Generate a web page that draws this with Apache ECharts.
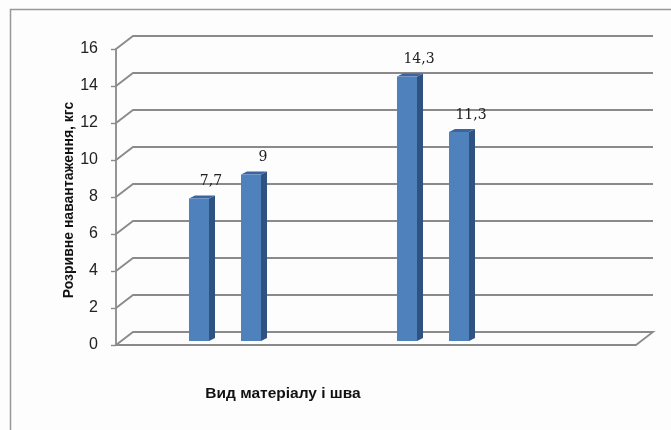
<!DOCTYPE html>
<html>
<head>
<meta charset="utf-8">
<script src="https://cdn.jsdelivr.net/npm/echarts@6/dist/echarts.min.js"></script>
<style>
html,body{margin:0;padding:0;background:#fdfdfd;}
#c{width:671px;height:430px;}
</style>
</head>
<body>
<div id="c"></div>
<script>
// Category slots along the x axis (the chart has no category labels)
var categories = ['', '', '', '', '', '', '', '', '', ''];
// Breaking load values, kgf (empty slots are null)
var values = [null, 7.7, 9, null, null, 14.3, 11.3, null, null, null];
// Y axis ticks
var yTicks = [0, 2, 4, 6, 8, 10, 12, 14, 16];

var yAxisTitle = 'Розривне навантаження, кгс';
var xAxisTitle = 'Вид матеріалу і шва';

var DX = 17, DY = -13;          // depth of back wall
var BDX = 6, BDY = -3;          // bar depth
var GRID = '#8a8a8a';

var chart = echarts.init(document.getElementById('c'), null, {renderer: 'canvas'});

var barData = [];
values.forEach(function (v, i) { if (v !== null) barData.push([i, v]); });

chart.setOption({
  backgroundColor: '#fdfdfd',
  animation: false,
  grid: {left: 116, top: 49, width: 520, height: 296},
  xAxis: {
    type: 'category',
    data: categories,
    axisLine: {show: true, lineStyle: {color: GRID, width: 1.8}},
    axisTick: {show: false},
    axisLabel: {show: false},
    splitLine: {show: false}
  },
  yAxis: {
    type: 'value',
    min: 0, max: 16, interval: 2,
    axisLine: {show: true, lineStyle: {color: GRID, width: 1.8}},
    axisTick: {show: true, length: 5, lineStyle: {color: GRID, width: 1.4}},
    axisLabel: {fontFamily: 'Liberation Sans', fontSize: 16, color: '#222', margin: 18},
    splitLine: {show: false}
  },
  graphic: [
    {type: 'rect', shape: {x: 10.5, y: 9.5, width: 700, height: 500},
     style: {fill: 'none', stroke: '#999', lineWidth: 1.5}, z: -1},
    {type: 'text', x: 283, y: 394,
     style: {text: xAxisTitle, fontFamily: 'Liberation Sans', fontWeight: 'bold', fontSize: 15.5, fill: '#111',
             align: 'center', verticalAlign: 'middle'}},
    {type: 'text', x: 69, y: 200, rotation: Math.PI / 2,
     style: {text: yAxisTitle, fontFamily: 'Liberation Sans', fontWeight: 'bold', fontSize: 14, fill: '#111',
             align: 'center', verticalAlign: 'middle'}}
  ],
  series: [
    {
      type: 'custom',
      coordinateSystem: 'cartesian2d',
      clip: false,
      silent: true,
      z: 1,
      data: yTicks.map(function (t) { return [0, t]; }),
      encode: {x: 0, y: 1},
      renderItem: function (params, api) {
        var cs = params.coordSys;
        var v = api.value(1);
        var y = api.coord([0, v])[1];
        var x0 = cs.x, w = cs.width;
        var pts = [[x0, y], [x0 + DX, y + DY], [x0 + DX + w, y + DY]];
        if (v === 0) pts.push([x0 + w, y]);
        return {
          type: 'polyline',
          shape: {points: pts},
          style: {stroke: GRID, lineWidth: 1.8, fill: null}
        };
      }
    },
    {
      type: 'custom',
      coordinateSystem: 'cartesian2d',
      clip: false,
      z: 3,
      data: barData,
      encode: {x: 0, y: 1},
      renderItem: function (params, api) {
        var i = api.value(0), v = api.value(1);
        var c = api.coord([i, v]);
        var b = api.coord([i, 0]);
        var bw = api.size([1, 0])[0];
        var fw = bw * 0.385;
        var xl = c[0] - fw / 2 + 5, xr = xl + fw;
        var top = c[1] - 4, bot = b[1] - 4;
        var lbl = String(v).replace('.', ',');
        return {
          type: 'group',
          children: [
            {type: 'polygon', shape: {points: [[xr, top], [xr + BDX, top + BDY], [xr + BDX, bot + BDY], [xr, bot]]},
             style: {fill: '#2f5281'}},
            {type: 'polygon', shape: {points: [[xl, top], [xl + BDX, top + BDY], [xr + BDX, top + BDY], [xr, top]]},
             style: {fill: '#3b65a0'}},
            {type: 'rect', shape: {x: xl, y: top, width: fw, height: bot - top},
             style: {fill: '#4f81bd'}},
            {type: 'text', x: (xl + xr) / 2 + 12, y: top - 17,
             style: {text: lbl, fontFamily: 'DejaVu Serif', fontSize: 14, fill: '#222',
                     align: 'center', verticalAlign: 'middle'}}
          ]
        };
      }
    }
  ]
});
</script>
</body>
</html>
